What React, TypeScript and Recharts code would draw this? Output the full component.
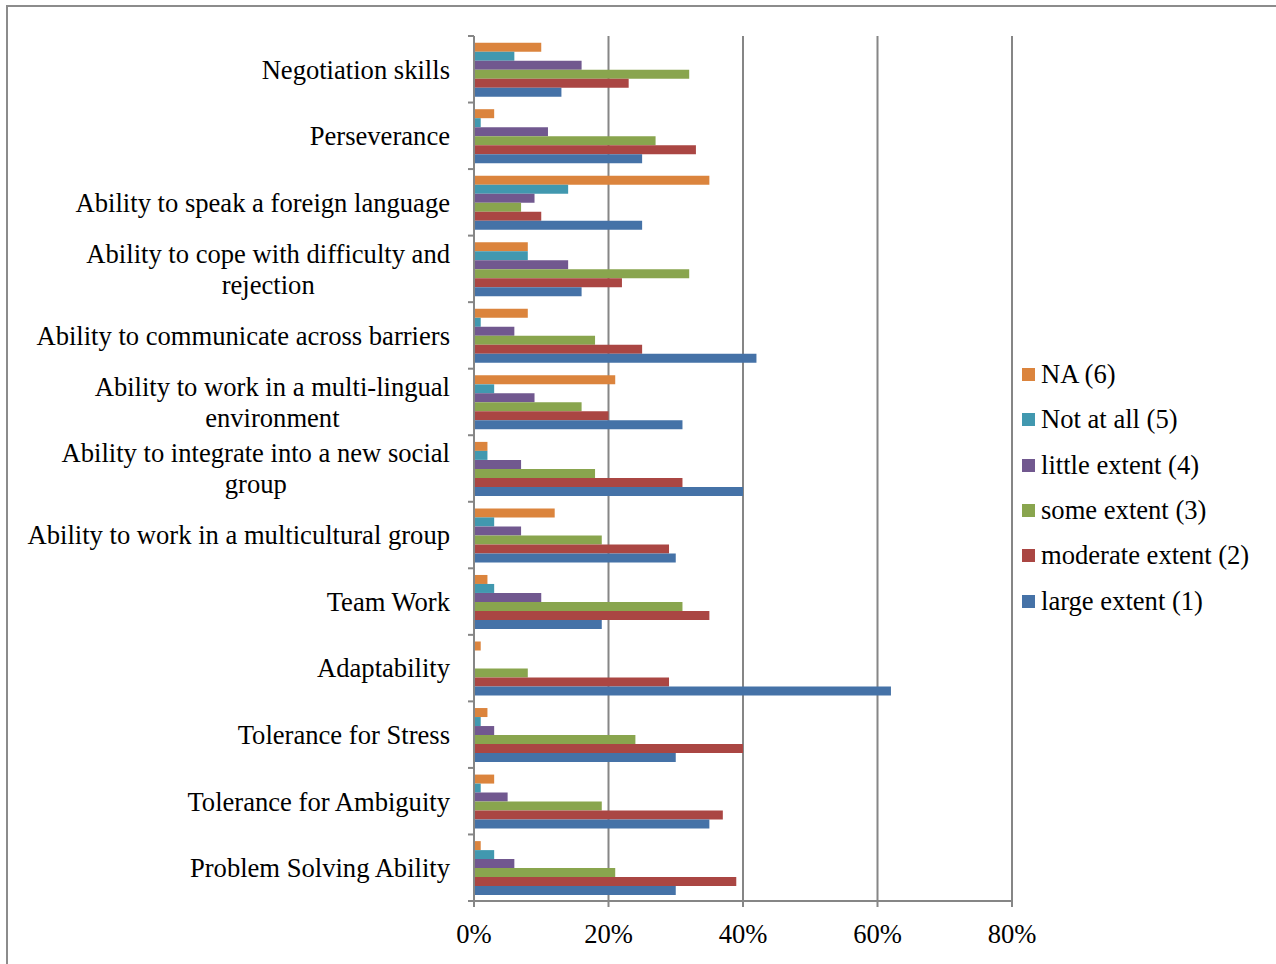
import { Bar, BarChart, CartesianGrid, Legend, XAxis, YAxis } from "recharts"

// skills, top to bottom
const categories = [
  "Negotiation skills",
  "Perseverance",
  "Ability to speak a foreign language",
  "Ability to cope with difficulty and\nrejection",
  "Ability to communicate across barriers",
  "Ability to work in a multi-lingual\nenvironment",
  "Ability to integrate into a new social\ngroup",
  "Ability to work in a multicultural group",
  "Team Work",
  "Adaptability",
  "Tolerance for Stress",
  "Tolerance for Ambiguity",
  "Problem Solving Ability",
]

// share of respondents (%) per answer
const naValues = [10, 3, 35, 8, 8, 21, 2, 12, 2, 1, 2, 3, 1]
const notAtAllValues = [6, 1, 14, 8, 1, 3, 2, 3, 3, 0, 1, 1, 3]
const littleValues = [16, 11, 9, 14, 6, 9, 7, 7, 10, 0, 3, 5, 6]
const someValues = [32, 27, 7, 32, 18, 16, 18, 19, 31, 8, 24, 19, 21]
const moderateValues = [23, 33, 10, 22, 25, 20, 31, 29, 35, 29, 40, 37, 39]
const largeValues = [13, 25, 25, 16, 42, 31, 40, 30, 19, 62, 30, 35, 30]

const xTicks = [0, 20, 40, 60, 80]

const series = [
  { key: "na", label: "NA (6)", color: "#DB843D", values: naValues },
  { key: "notAtAll", label: "Not at all (5)", color: "#4198AF", values: notAtAllValues },
  { key: "little", label: "little extent (4)", color: "#71588F", values: littleValues },
  { key: "some", label: "some extent (3)", color: "#89A54E", values: someValues },
  { key: "moderate", label: "moderate extent (2)", color: "#AA4643", values: moderateValues },
  { key: "large", label: "large extent (1)", color: "#4572A7", values: largeValues },
]

const data = categories.map((name, i) => {
  const row: Record<string, string | number> = { name }
  series.forEach((s) => {
    row[s.key] = s.values[i]
  })
  return row
})

const FONT = "'Liberation Serif', 'Times New Roman', serif"
const FONT_SIZE = 26.6
const GRID = "#868686"

const W = 1276
const H = 964
const MARGIN = { top: 36, right: 264, bottom: 23, left: 0 }
const X_AXIS_H = 40
const Y_AXIS_W = 474
const TICK_SIZE = 6
const TICK_MARGIN = 18

let measureCtx: CanvasRenderingContext2D | null = null
function textWidth(text: string) {
  if (!measureCtx) {
    measureCtx = document.createElement("canvas").getContext("2d")
  }
  if (!measureCtx) return text.length * FONT_SIZE * 0.45
  measureCtx.font = `${FONT_SIZE}px ${FONT}`
  return measureCtx.measureText(text).width
}

function CategoryTick(props: any) {
  const { x, y, payload } = props
  const plotH = H - MARGIN.top - MARGIN.bottom - X_AXIS_H
  const half = payload.offset || plotH / categories.length / 2
  const axisX = x + TICK_SIZE + TICK_MARGIN
  const lines = String(payload.value).split("\n")
  const isLast = payload.value === categories[categories.length - 1]
  const lineGap = 31

  return (
    <g>
      <line x1={axisX - TICK_SIZE} x2={axisX} y1={y - half} y2={y - half} stroke={GRID} strokeWidth={2} />
      {isLast && (
        <line x1={axisX - TICK_SIZE} x2={axisX} y1={y + half} y2={y + half} stroke={GRID} strokeWidth={2} />
      )}
      {lines.length === 1 ? (
        <text x={x} y={y} dy="0.35em" textAnchor="end" fill="#000" fontSize={FONT_SIZE} fontFamily={FONT}>
          {lines[0]}
        </text>
      ) : (
        lines.map((ln, i) => {
          // wrapped lines are centred under the first, right-aligned line
          const center = x - textWidth(lines[0]) / 2
          return (
            <text
              key={i}
              x={i === 0 ? x : center}
              y={y + (i - (lines.length - 1) / 2) * lineGap}
              dy="0.35em"
              textAnchor={i === 0 ? "end" : "middle"}
              fill="#000"
              fontSize={FONT_SIZE}
              fontFamily={FONT}
            >
              {ln}
            </text>
          )
        })
      )}
    </g>
  )
}

function SeriesLegend() {
  return (
    <div style={{ fontFamily: FONT, fontSize: FONT_SIZE, color: "#000" }}>
      {series.map((s) => (
        <div key={s.key} style={{ display: "flex", alignItems: "center", height: 45.3, whiteSpace: "nowrap" }}>
          <span style={{ display: "inline-block", width: 13, height: 13, background: s.color, marginRight: 6 }} />
          <span>{s.label}</span>
        </div>
      ))}
    </div>
  )
}

export default function App() {
  return (
    <div style={{ position: "fixed", left: 0, top: 0, width: W, height: H, overflow: "hidden", background: "#fff" }}>
      <div
        style={{
          position: "absolute",
          left: 6,
          top: 5,
          width: W - 6,
          height: H - 5,
          borderTop: "2px solid #8c8c8c",
          borderLeft: "2px solid #8c8c8c",
          boxSizing: "border-box",
        }}
      />
      <div style={{ position: "absolute", left: 0, top: 0 }}>
        <BarChart
          width={W}
          height={H}
          data={data}
          layout="vertical"
          margin={MARGIN}
          barCategoryGap="10%"
          barGap={0}
          style={{ fontFamily: FONT }}
        >
          <CartesianGrid horizontal={false} stroke={GRID} strokeWidth={2} />
          <XAxis
            type="number"
            domain={[0, 80]}
            ticks={xTicks}
            height={X_AXIS_H}
            tickFormatter={(v) => `${v}%`}
            axisLine={{ stroke: GRID, strokeWidth: 2 }}
            tickLine={{ stroke: GRID, strokeWidth: 2 }}
            tickSize={TICK_SIZE}
            tickMargin={17}
            tick={{ fill: "#000", fontSize: FONT_SIZE, fontFamily: FONT }}
          />
          <YAxis
            type="category"
            dataKey="name"
            width={Y_AXIS_W}
            interval={0}
            axisLine={{ stroke: GRID, strokeWidth: 2 }}
            tickLine={false}
            tickSize={TICK_SIZE}
            tickMargin={TICK_MARGIN}
            tick={<CategoryTick />}
          />
          <Legend
            layout="vertical"
            align="center"
            verticalAlign="middle"
            content={<SeriesLegend />}
            wrapperStyle={{ left: 1022, top: 352, width: "auto" }}
          />
          {series.map((s) => (
            <Bar key={s.key} dataKey={s.key} name={s.label} fill={s.color} isAnimationActive={false} />
          ))}
        </BarChart>
      </div>
    </div>
  )
}
